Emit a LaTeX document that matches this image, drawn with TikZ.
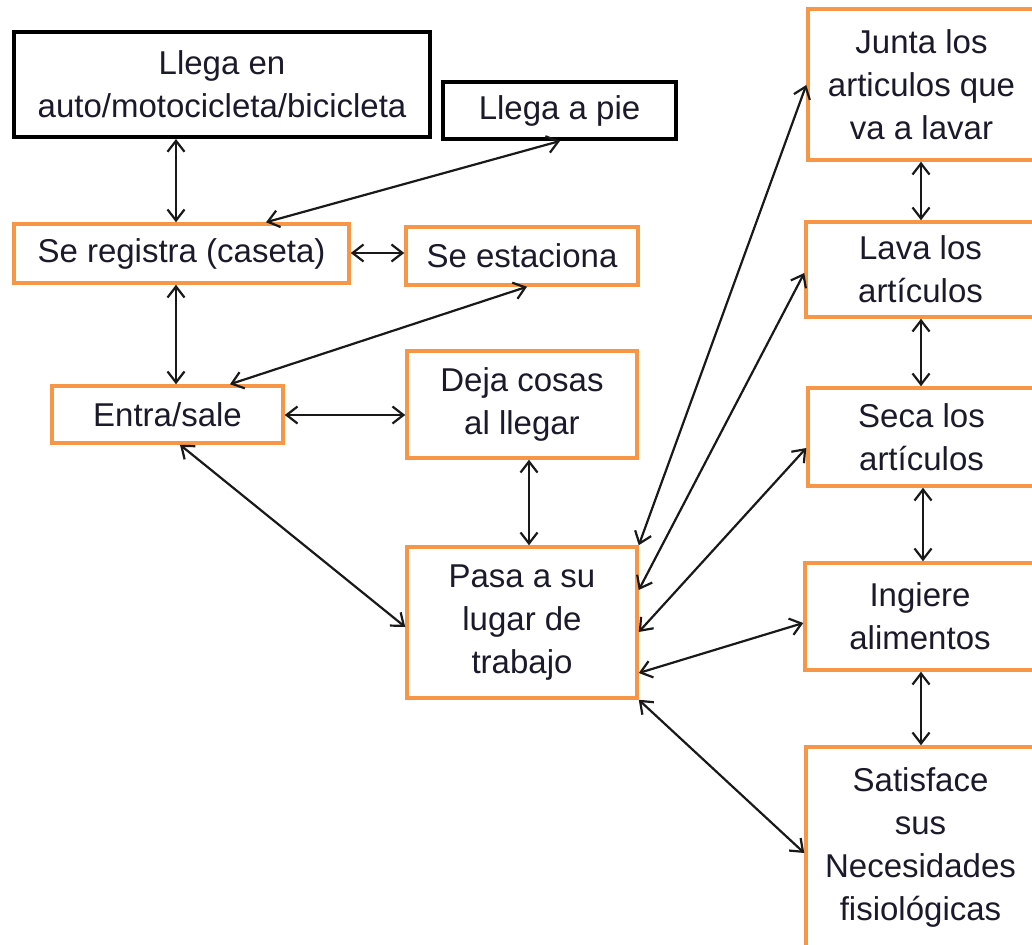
\documentclass[tikz,border=0pt]{standalone}
\usepackage{fontspec}
\setmainfont{Liberation Sans}
\usetikzlibrary{arrows.meta}
\definecolor{boxorange}{HTML}{F79646}
\definecolor{inkcol}{HTML}{1A1A2A}
\tikzset{
  basebox/.style={draw, fill=white, inner sep=0pt, align=center, text=inkcol,
    font=\fontsize{33}{43}\selectfont},
  blackbox/.style={basebox, draw=black, line width=4pt},
  orangebox/.style={basebox, draw=boxorange, line width=3.5pt},
  link/.style={line width=2.2pt, draw=black!90, {Straight Barb[length=11pt,width=17pt]}-{Straight Barb[length=11pt,width=17pt]}}
}
\begin{document}
\begin{tikzpicture}[x=1pt,y=-1pt]
\useasboundingbox (0,0) rectangle (1032,944);
% boxes (centre, width, height in px)
\node[blackbox, minimum width=416, minimum height=105] (A) at (222,84.5) {Llega en\\auto/motocicleta/bicicleta};
\node[blackbox, minimum width=233, minimum height=57] (B) at (559.5,110.5) {Llega a pie};
\node[orangebox, minimum width=335, minimum height=59] (C) at (181.5,253.5) {Se registra (caseta)};
\node[orangebox, minimum width=232, minimum height=58] (D) at (522,256) {Se estaciona};
\node[orangebox, minimum width=231, minimum height=57] (E) at (167.5,414.5) {Entra/sale};
\node[orangebox, minimum width=230, minimum height=107] (F) at (522,404.5) {Deja cosas\\al llegar};
\node[orangebox, minimum width=230, minimum height=151] (G) at (522,622.5) {Pasa a su\\lugar de\\trabajo};
\node[orangebox, minimum width=227, minimum height=151] (H) at (921.5,84.5) {Junta los\\articulos que\\va a lavar};
\node[orangebox, minimum width=229, minimum height=95] (I) at (920.5,269.5) {Lava los\\artículos};
\node[orangebox, minimum width=227, minimum height=98] (J) at (921.5,437) {Seca los\\artículos};
\node[orangebox, minimum width=230, minimum height=107] (K) at (920,616.5) {Ingiere\\alimentos};
\node[orangebox, minimum width=229, minimum height=201] (L) at (920.5,847.5) {Satisface\\sus\\Necesidades\\fisiológicas};
% connectors
\draw[link] (A.south -| 176,0) -- (C.north -| 176,0);
\draw[link] (B.south -| 560,0) -- (C.north -| 266,0);
\draw[link] (C.east |- 0,253) -- (D.west |- 0,253);
\draw[link] (C.south -| 176,0) -- (E.north -| 176,0);
\draw[link] (D.south -| 527,0) -- (E.north -| 230,0);
\draw[link] (E.east |- 0,415) -- (F.west |- 0,415);
\draw[link] (E.south -| 180,0) -- (G.west |- 0,627);
\draw[link] (F.south -| 529,0) -- (G.north -| 529,0);
\draw[link] (H.west |- 0,85) -- (G.north east);
\draw[link] (I.west |- 0,273) -- (G.east |- 0,590);
\draw[link] (J.west |- 0,448) -- (G.east |- 0,632);
\draw[link] (K.west |- 0,623) -- (G.east |- 0,673);
\draw[link] (L.west |- 0,853) -- (G.south east);
\draw[link] (H.south -| 921,0) -- (I.north -| 921,0);
\draw[link] (I.south -| 921,0) -- (J.north -| 921,0);
\draw[link] (J.south -| 923,0) -- (K.north -| 923,0);
\draw[link] (K.south -| 921,0) -- (L.north -| 921,0);
\end{tikzpicture}
\end{document}
